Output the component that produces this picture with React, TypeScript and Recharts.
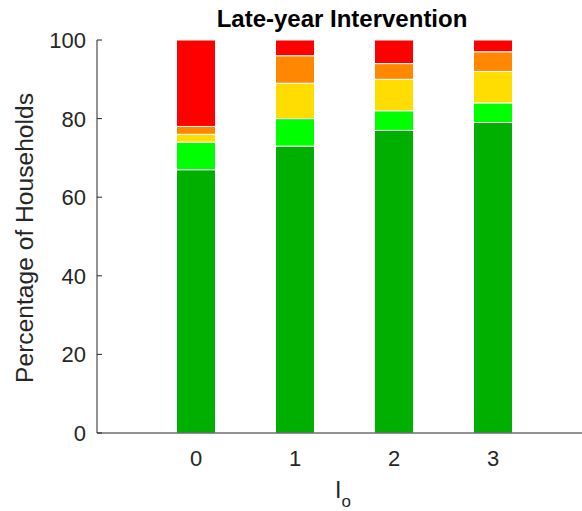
import React from 'react';
import { BarChart, Bar, XAxis, YAxis } from 'recharts';

// Outbreak intensity levels I_o on the x axis
const categories = [0, 1, 2, 3];

// Share of households (%) in each outcome band, bottom to top of each stack
const bandDarkGreen = [67, 73, 77, 79];
const bandLightGreen = [7, 7, 5, 5];
const bandYellow = [2, 9, 8, 8];
const bandOrange = [2, 7, 4, 5];
const bandRed = [22, 4, 6, 3];

const yTicks = [0, 20, 40, 60, 80, 100];

const data = categories.map((c, i) => ({
  io: c,
  darkGreen: bandDarkGreen[i],
  lightGreen: bandLightGreen[i],
  yellow: bandYellow[i],
  orange: bandOrange[i],
  red: bandRed[i],
}));

const FONT = '"Liberation Sans", Arial, Helvetica, sans-serif';
const INK = '#262626';

const YTick = (props: any) => {
  const { x, y, payload } = props;
  return (
    <g>
      <line x1={x} x2={x + 5} y1={y} y2={y} stroke={INK} strokeWidth={1} />
      <text x={x - 11} y={y} dy="0.36em" textAnchor="end" fontFamily={FONT} fontSize={22} fill={INK}>
        {payload.value}
      </text>
    </g>
  );
};

const XTick = (props: any) => {
  const { x, y, payload } = props;
  return (
    <text x={x} y={y + 33} textAnchor="middle" fontFamily={FONT} fontSize={22} fill={INK}>
      {payload.value}
    </text>
  );
};

const series = [
  { key: 'darkGreen', color: '#00B000' },
  { key: 'lightGreen', color: '#00FF00' },
  { key: 'yellow', color: '#FFDD00' },
  { key: 'orange', color: '#FF8800' },
  { key: 'red', color: '#FF0000' },
];

export default function App() {
  return (
    <div style={{ position: 'absolute', left: 0, top: 0, width: 582, height: 511, overflow: 'hidden', background: '#fff' }}>
      <BarChart
        width={600}
        height={511}
        data={data}
        margin={{ top: 40, right: 8, bottom: 48, left: 0 }}
      >
        <XAxis
          type="number"
          dataKey="io"
          domain={[-1, 4]}
          ticks={categories}
          height={30}
          tickSize={0}
          tickMargin={0}
          tickLine={false}
          axisLine={{ stroke: INK, strokeWidth: 1 }}
          tick={<XTick />}
          allowDataOverflow
        />
        <YAxis
          type="number"
          domain={[0, 100]}
          ticks={yTicks}
          width={97}
          tickSize={0}
          tickMargin={0}
          tickLine={false}
          axisLine={{ stroke: INK, strokeWidth: 1 }}
          tick={<YTick />}
        />
        {series.map((s) => (
          <Bar
            key={s.key}
            dataKey={s.key}
            stackId="households"
            fill={s.color}
            stroke="#ffffff"
            strokeWidth={1}
            barSize={39}
            isAnimationActive={false}
          />
        ))}
      </BarChart>
      <svg
        width={582}
        height={511}
        style={{ position: 'absolute', left: 0, top: 0, pointerEvents: 'none' }}
      >
        <text x={342} y={27} textAnchor="middle" fontFamily={FONT} fontSize={24} fontWeight="bold" fill="#000">
          Late-year Intervention
        </text>
        <text
          transform="translate(33, 238) rotate(-90)"
          textAnchor="middle"
          fontFamily={FONT}
          fontSize={24.6}
          fill={INK}
        >
          Percentage of Households
        </text>
        <text x={335} y={498} fontFamily={FONT} fontSize={23} fill={INK}>
          I
          <tspan fontSize={17} dy={9}>o</tspan>
        </text>
      </svg>
    </div>
  );
}
